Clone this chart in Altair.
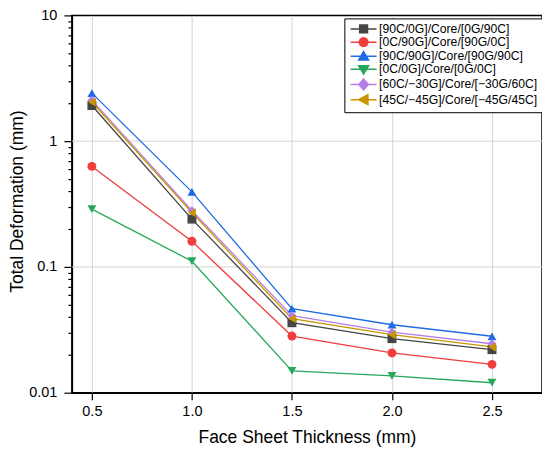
import altair as alt
import pandas as pd

thickness = [0.5, 1.0, 1.5, 2.0, 2.5]
series_names = [
    "[90C/0G]/Core/[0G/90C]",
    "[0C/90G]/Core/[90G/0C]",
    "[90C/90G]/Core/[90G/90C]",
    "[0C/0G]/Core/[0G/0C]",
    "[60C/\u221230G]/Core/[\u221230G/60C]",
    "[45C/\u221245G]/Core/[\u221245G/45C]",
]
s_90_0 = [1.92, 0.24, 0.036, 0.0269, 0.0220]
s_0_90 = [0.63, 0.16, 0.0282, 0.0207, 0.0168]
s_90_90 = [2.41, 0.395, 0.0465, 0.0347, 0.0281]
s_0_0 = [0.288, 0.111, 0.0149, 0.0136, 0.0120]
s_60_30 = [2.12, 0.28, 0.041, 0.0303, 0.0245]
s_45_45 = [2.05, 0.27, 0.0388, 0.0289, 0.0231]
all_series = [s_90_0, s_0_90, s_90_90, s_0_0, s_60_30, s_45_45]
grid_decades = [0.1, 1]

colors = ["#454545", "#f23d3d", "#1f6be3", "#26a85c", "#b57ee6", "#c99600"]
shapes = ["square", "circle", "triangle-up", "triangle-down", "diamond", "triangle-left"]
line_seg = "M-1,0H5"
circ = "M3,0L2.92,0.38L2.71,0.71L2.38,0.92L2,1L1.62,0.92L1.29,0.71L1.08,0.38L1,0L1.08,-0.38L1.29,-0.71L1.62,-0.92L2,-1L2.38,-0.92L2.71,-0.71L2.92,-0.38Z"
legend_paths = [
    line_seg + "M1.1,-0.9H2.9V0.9H1.1Z",
    line_seg + circ,
    line_seg + "M2,-1.1L3.15,0.85H0.85Z",
    line_seg + "M2,1.1L3.15,-0.85H0.85Z",
    line_seg + "M2,-1.25L3.1,0L2,1.25L0.9,0Z",
    line_seg + "M0.85,0L3,-1.15V1.15Z",
]

rows = []
for name, vals in zip(series_names, all_series):
    for t, v in zip(thickness, vals):
        rows.append({"Series": name, "Thickness": t, "Deformation": v})
df = pd.DataFrame(rows)
grid_df = pd.DataFrame({"g": grid_decades})

decade = "abs(log(datum.value)/LN10 - round(log(datum.value)/LN10)) < 1e-6"
y_vals = []
for d in [0.01, 0.1, 1]:
    for m in range(1, 10):
        y_vals.append(round(d * m, 4))
y_vals.append(10)

x_scale = alt.Scale(domain=[0.4, 2.75], nice=False, zero=False)
y_scale = alt.Scale(type="log", domain=[0.01, 10], nice=False)

x_enc = alt.X(
    "Thickness:Q", scale=x_scale,
    axis=alt.Axis(
        values=thickness, format=".1f", title="Face Sheet Thickness (mm)",
        tickSize=7, labelPadding=5, titlePadding=10,
    ),
)
y_enc = alt.Y(
    "Deformation:Q", scale=y_scale,
    axis=alt.Axis(
        values=y_vals, grid=False,
        labelExpr="(" + decade + ") ? format(datum.value, '~g') : ''",
        tickSize={"condition": {"test": decade, "value": 8}, "value": 4},
        title="Total Deformation (mm)", labelPadding=7,
        titleX=-45, titleY=186, titleBaseline="bottom", titleAngle=270,
    ),
)

hgrid = alt.Chart(grid_df).mark_rule(color="#d4d4d4", strokeWidth=1).encode(
    y=alt.Y("g:Q", scale=y_scale)
)

color_scale = alt.Scale(domain=series_names, range=colors)

lines = alt.Chart(df).mark_line(strokeWidth=1.3).encode(
    x=x_enc, y=y_enc,
    color=alt.Color("Series:N", scale=color_scale, legend=None),
    order=alt.Order("Thickness:Q"),
)
points = alt.Chart(df).mark_point(filled=True, size=80, opacity=1).encode(
    x=x_enc, y=y_enc,
    color=alt.Color("Series:N", scale=color_scale, legend=None),
    shape=alt.Shape("Series:N", scale=alt.Scale(domain=series_names, range=shapes), legend=None),
)

leg = alt.Legend(
    title=None, orient="none", legendX=273, legendY=3,
    strokeColor="black", fillColor="white", padding=4.5,
    labelFont="Liberation Sans", labelFontSize=12.2, labelColor="black",
    labelOffset=18, rowPadding=-1.8, symbolSize=75, symbolStrokeWidth=1.5,
    labelLimit=300,
)
legend_layer = alt.Chart(df).transform_filter("false").mark_point(
    filled=True, size=75, opacity=1, strokeWidth=1.5
).encode(
    fill=alt.Fill("Series:N", scale=alt.Scale(domain=series_names, range=colors), legend=leg),
    stroke=alt.Stroke("Series:N", scale=alt.Scale(domain=series_names, range=colors), legend=leg),
    shape=alt.Shape("Series:N", scale=alt.Scale(domain=series_names, range=legend_paths), legend=leg),
)

chart = alt.layer(hgrid, lines, points, legend_layer).resolve_scale(
    color="independent", shape="independent", fill="independent", stroke="independent"
).properties(
    width=471, height=378,
    autosize=alt.AutoSizeParams(type="none"),
    padding={"left": 64, "top": 7, "right": 0, "bottom": 56},
    background="white",
).configure_view(
    stroke="black", strokeWidth=1.5
).configure_axis(
    labelFont="Liberation Sans", titleFont="Liberation Sans",
    labelFontSize=14.5, titleFontSize=17.5, titleFontWeight="normal",
    labelColor="black", titleColor="black",
    domainColor="black", domainWidth=1.5, tickColor="black", tickWidth=1.2,
    gridColor="#d4d4d4", gridWidth=1,
)

chart.save("out.html", embed_options={"renderer": "svg", "actions": False})
